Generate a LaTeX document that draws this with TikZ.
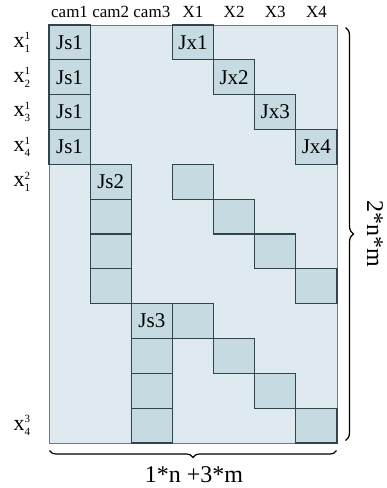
\documentclass[tikz,border=0pt]{standalone}
\usepackage{fontspec}
\setmainfont{Liberation Serif}
\usetikzlibrary{decorations.pathreplacing}
\definecolor{jacfill}{HTML}{DFEAF0}
\definecolor{blockfill}{HTML}{C6DAE1}
\definecolor{blockline}{HTML}{33454C}
\definecolor{jacline}{HTML}{6B7D84}
\newcommand{\scr}[1]{\hbox{\fontsize{11}{11}\selectfont #1}}
\newcommand{\xlab}[2]{x$_{\scr{#1}}^{\scr{#2}}$}
\begin{document}
\begin{tikzpicture}[x=1pt, y=-1pt, line width=1pt]
\tikzstyle{block} = [rectangle, fill=blockfill, draw=blockline, line width=1.2pt, minimum width=41.14pt, minimum height=34.83pt, inner sep=0pt, font=\fontsize{21}{21}\selectfont]
\tikzstyle{head} = [inner sep=0pt, font=\fontsize{17}{17}\selectfont]
\tikzstyle{rowlab} = [inner sep=0pt, font=\fontsize{22}{22}\selectfont]
\tikzstyle{size} = [inner sep=0pt, font=\fontsize{24}{24}\selectfont]
\tikzstyle{brc} = [decorate, line width=1.2pt]
\useasboundingbox (0,0) rectangle (387,488);
\node (jac) at (193,234) [rectangle, fill=jacfill, draw=jacline, minimum width=288pt, minimum height=418pt] {};
% blocks: column/row/text
\foreach \c/\r/\t in {1/1/Js1, 1/2/Js1, 1/3/Js1, 1/4/Js1, 4/1/Jx1, 5/2/Jx2, 6/3/Jx3, 7/4/Jx4,
  2/5/Js2, 2/6/{}, 2/7/{}, 2/8/{}, 4/5/{}, 5/6/{}, 6/7/{}, 7/8/{},
  3/9/Js3, 3/10/{}, 3/11/{}, 3/12/{}, 4/9/{}, 5/10/{}, 6/11/{}, 7/12/{}}
  \node (b-\r-\c) at ({49+41.14*(\c-0.5)}, {25+34.83*(\r-0.5)}) [block] {\t};
% column heads
\foreach \c/\t in {1/cam1, 2/cam2, 3/cam3, 4/X1, 5/X2, 6/X3, 7/X4}
  \node (h-\c) at ({49+41.14*(\c-0.5)}, 12) [head] {\t};
% row labels
\foreach \r/\s/\k in {1/1/1, 2/2/1, 3/3/1, 4/4/1, 5/1/2, 12/4/3}
  \node (l-\r) at (22, {25+34.83*(\r-0.5)}) [rowlab] {\xlab{\s}{\k}};
% braces
\draw [brc, decoration={brace, amplitude=8pt}] ([xshift=8pt, yshift=-3pt]jac.north east) -- ([xshift=8pt, yshift=3pt]jac.south east);
\draw [brc, decoration={brace, amplitude=7pt}] ([xshift=-1pt, yshift=-7pt]jac.south east) -- ([xshift=1pt, yshift=-7pt]jac.south west);
\node (rows) at (375,234) [size, rotate=-90] {2*n*m};
\node (cols) at (194,475) [size] {1*n +3*m};
\end{tikzpicture}
\end{document}
